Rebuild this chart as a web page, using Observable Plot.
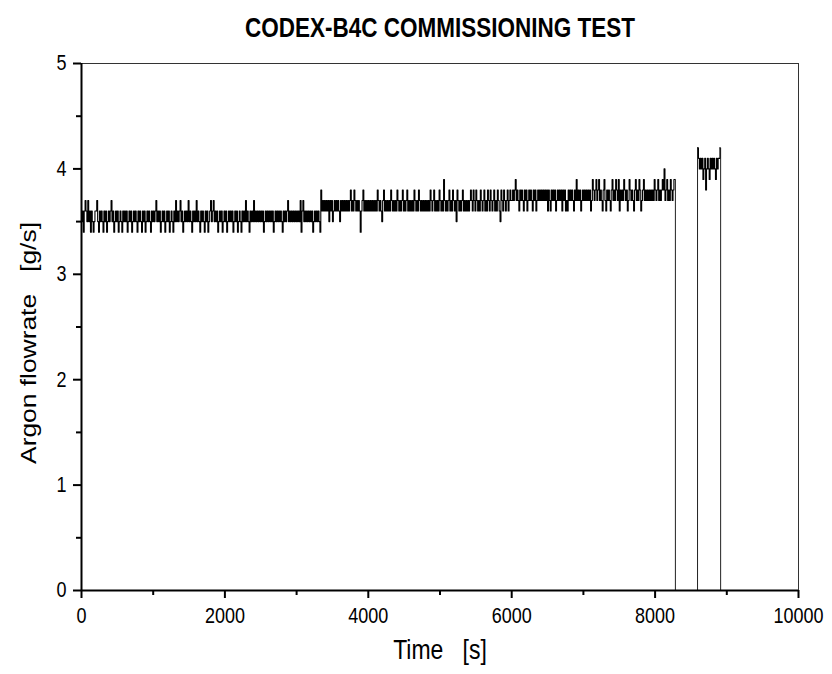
<!DOCTYPE html>
<html>
<head>
<meta charset="utf-8">
<script src="https://cdn.jsdelivr.net/npm/d3@7"></script>
<script src="https://cdn.jsdelivr.net/npm/@observablehq/plot@0.6"></script>
<style>
  html, body { margin: 0; padding: 0; background: #fff; }
</style>
</head>
<body>
<div id="chart"></div>
<script>
// Argon flowrate readings in tenths of g/s, sampled every 12.5 s
const seg1Start = 0, seg1Step = 12.5;   // 0 .. 2387.5 s
const seg1 = [
  35,36,34,36,37,36,35,37,35,36,34,36,35,34,35,36,36,37,35,34,
  36,35,36,35,34,36,35,36,34,35,36,35,36,37,35,36,34,35,36,35,
  36,34,35,36,35,34,36,35,36,35,36,34,35,36,35,36,34,35,36,35,
  36,35,34,36,35,36,35,34,36,35,36,34,35,36,35,36,35,34,36,35,
  36,35,36,37,35,36,35,36,34,35,36,35,36,34,35,36,35,36,34,35,
  36,35,34,36,35,37,35,36,35,36,37,35,36,34,35,36,35,36,35,37,
  35,36,35,34,36,35,36,35,37,35,36,35,34,36,35,36,35,34,36,35,
  36,34,35,36,37,35,36,37,35,36,35,36,34,35,36,35,36,34,35,36,
  35,36,34,35,36,35,36,35,36,34,35,36,35,36,34,35,36,35,34,36,
  35,36,35,37,35,36,35,34,36,35,36,35];
const seg2Start = 2400, seg2Step = 12.5; // 2400 .. 3387.5 s
const seg2 = [
  37,35,36,35,36,35,36,35,36,35,36,34,35,36,35,36,35,36,35,36,
  35,36,34,35,36,35,36,35,36,35,36,35,34,36,35,36,35,36,37,35,
  36,35,36,35,36,35,36,35,36,35,36,35,37,34,36,37,35,36,35,36,
  35,36,35,36,35,36,34,35,36,35,36,35,36,35,34,38,36,37,36,37];
const seg3Start = 3400, seg3Step = 12.5; // 3400 .. 5987.5 s
const seg3 = [
  36,37,36,37,35,37,36,37,35,36,37,36,37,36,37,36,35,37,36,37,
  36,37,36,37,36,37,36,37,38,36,37,36,38,37,36,37,36,37,36,34,
  36,37,38,36,37,36,37,36,37,36,37,36,37,36,37,36,37,36,38,37,
  36,37,36,35,37,38,36,37,36,37,36,37,36,38,37,36,37,36,37,36,
  38,37,36,37,36,37,38,36,37,36,37,38,36,37,36,37,36,37,36,38,
  37,36,37,36,38,37,36,37,36,37,36,37,36,37,36,37,36,38,37,36,
  37,38,36,37,36,37,36,38,37,36,37,36,39,37,36,37,36,37,38,36,
  37,36,38,37,36,37,35,38,37,36,37,36,37,38,36,37,36,37,36,37,
  36,37,38,37,36,38,37,36,38,37,36,37,36,38,37,36,37,38,36,37,
  36,38,37,36,38,37,36,37,38,36,37,36,38,37,36,35,38,37,36,38,
  37,36,37,38,36,37,38,37];
const seg4Start = 6000, seg4Step = 12.5; // 6000 .. 8275 s
const seg4 = [
  37,38,37,38,39,37,38,37,36,38,37,38,37,36,38,37,38,36,37,38,
  37,38,37,36,38,37,38,36,37,38,37,38,37,38,37,38,37,38,37,38,
  36,38,37,36,38,37,38,37,38,36,37,38,37,38,37,38,36,38,37,38,
  36,37,36,38,37,38,37,38,37,36,38,37,39,37,38,37,38,36,37,38,
  37,38,37,38,37,38,37,38,36,37,39,38,37,38,39,37,38,39,37,38,
  37,36,38,39,37,36,38,37,38,37,36,38,39,37,38,37,39,38,37,39,
  36,38,37,38,37,39,38,37,38,36,37,39,38,37,38,37,36,38,39,37,
  38,37,39,38,36,37,38,39,37,38,37,38,37,38,37,38,37,38,37,39,
  38,37,38,39,37,38,37,38,39,38,40,37,38,39,37,38,37,39,38,37,
  38,39,39];
const dropout1 = [[8283, 0], [8590, 0]];
const seg5Start = 8592, seg5Step = 12.5; // 8592 .. 8904.5 s
const seg5 = [42,41,40,41,40,41,39,40,41,38,40,41,40,39,41,40,41,40,41,40,39,41,40,41,41,42];
const dropout2 = [[8914, 0], [10000, 0]];

const xTicks = [0, 2000, 4000, 6000, 8000, 10000];
const xMinor = [1000, 3000, 5000, 7000, 9000];
const yTicks = [0, 1, 2, 3, 4, 5];
const yMinor = [0.5, 1.5, 2.5, 3.5, 4.5];

function rows(start, step, vals) {
  return vals.map((v, i) => ({t: start + i * step, f: v / 10}));
}
const pts = (arr) => arr.map(([t, f]) => ({t, f}));
const running = [
  ...rows(seg1Start, seg1Step, seg1),
  ...rows(seg2Start, seg2Step, seg2),
  ...rows(seg3Start, seg3Step, seg3),
  ...rows(seg4Start, seg4Step, seg4)
];
const restart = rows(seg5Start, seg5Step, seg5);
const gap1 = [running[running.length - 1], ...pts(dropout1), restart[0]];
const gap2 = [restart[restart.length - 1], ...pts(dropout2)];

const font = "'Liberation Sans', Arial, sans-serif";

const chart = Plot.plot({
  width: 832,
  height: 674,
  marginLeft: 81,
  marginRight: 34,
  marginTop: 63,
  marginBottom: 84,
  style: {fontFamily: font, background: "#fff", color: "#000"},
  x: {domain: [0, 10000]},
  y: {domain: [0, 5]},
  marks: [
    Plot.frame({stroke: "#333", strokeWidth: 1}),
    Plot.line(gap1, {x: "t", y: "f", curve: "step-after", stroke: "#222", strokeWidth: 1}),
    Plot.line(gap2, {x: "t", y: "f", curve: "step-after", stroke: "#222", strokeWidth: 1}),
    Plot.line(running, {x: "t", y: "f", curve: "step-after", stroke: "#000", strokeWidth: 1.1}),
    Plot.line(restart, {x: "t", y: "f", curve: "step-after", stroke: "#000", strokeWidth: 1.1}),
    Plot.ruleY([0], {stroke: "#000", strokeWidth: 2}),
    Plot.ruleX([0], {stroke: "#000", strokeWidth: 2}),
    Plot.axisX({ticks: xTicks, tickSize: 8, tickPadding: 9, strokeWidth: 2, fontSize: 18, tickFormat: d => String(d), label: null}),
    Plot.axisX({ticks: xMinor, tickSize: 5, strokeWidth: 2, text: null, label: null}),
    Plot.axisY({ticks: yTicks, tickSize: 8, tickPadding: 7, strokeWidth: 2, fontSize: 18, tickFormat: d => String(d), label: null}),
    Plot.axisY({ticks: yMinor, tickSize: 5, strokeWidth: 2, text: null, label: null}),
    Plot.text(["CODEX-B4C COMMISSIONING TEST"], {frameAnchor: "top", lineAnchor: "middle", dy: -35, fontWeight: "bold", fontSize: 22.5, className: "stretch"}),
    Plot.text(["Time\u00a0\u00a0 [s]"], {frameAnchor: "bottom", lineAnchor: "middle", dy: 60, fontSize: 23, className: "stretch"}),
    Plot.text(["Argon flowrate\u00a0\u00a0 [g/s]"], {frameAnchor: "left", dx: -53, dy: 16, rotate: -90, textAnchor: "middle", fontSize: 22, className: "stretchrot"})
  ]
});

// The reference picture is stretched vertically by about 1.2; reproduce that on the text.
function stretch(el, sx, sy) {
  const tr = el.getAttribute("transform") || "";
  const x = +el.getAttribute("x") || 0, y = +el.getAttribute("y") || 0;
  el.setAttribute("transform", `${tr} translate(${x},${y}) scale(${sx},${sy}) translate(${-x},${-y})`);
}
chart.querySelectorAll(".stretch text, g[aria-label$='tick label'] text").forEach(el => stretch(el, 1, 1.2));
chart.querySelectorAll(".stretchrot text").forEach(el => stretch(el, 1.2, 1));
document.getElementById("chart").appendChild(chart);
</script>
</body>
</html>
